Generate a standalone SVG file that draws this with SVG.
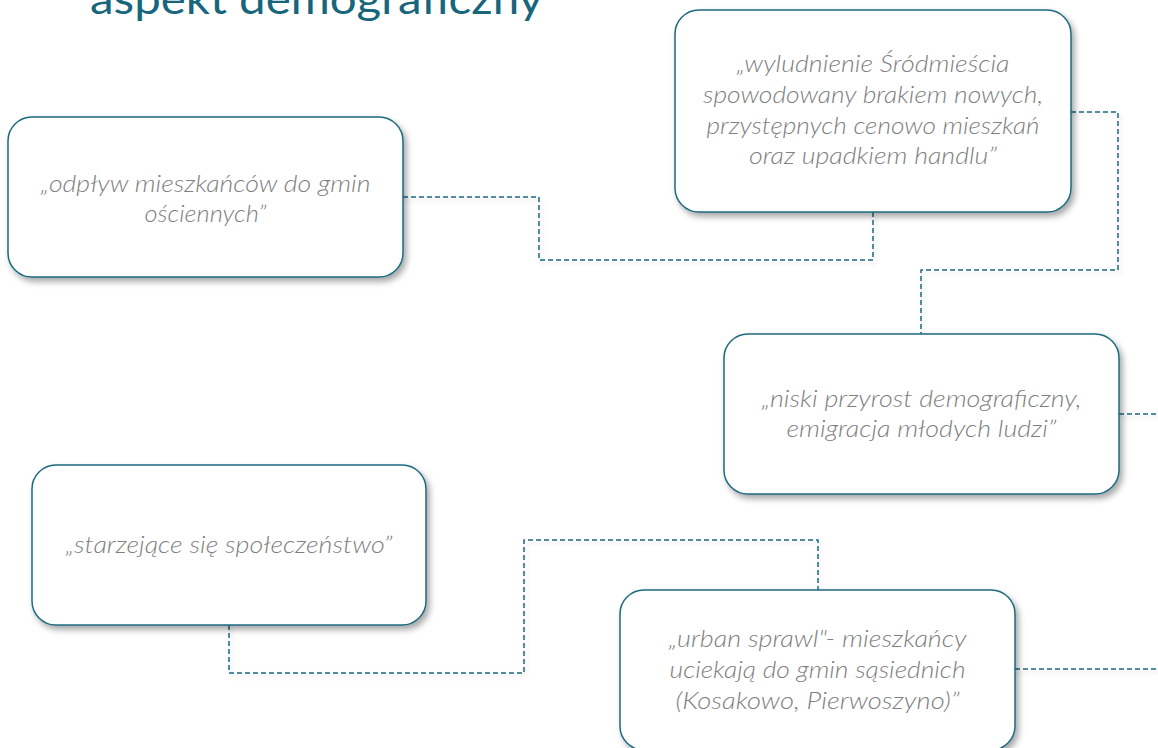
<svg xmlns="http://www.w3.org/2000/svg" width="1158" height="748" viewBox="0 0 1158 748">
<defs>
<filter id="sh" x="-10%" y="-10%" width="125%" height="130%">
<feDropShadow dx="3" dy="4" stdDeviation="3" flood-color="#000" flood-opacity="0.35"/>
</filter>
<filter id="lsh" x="-5%" y="-5%" width="115%" height="120%">
<feDropShadow dx="2" dy="3" stdDeviation="2" flood-color="#000" flood-opacity="0.15"/>
</filter>
</defs>
<style>
.box{fill:#ffffff;stroke:#1e6a80;stroke-width:1.5;filter:url(#sh)}
.t{font-family:Lato,"Open Sans","Liberation Sans",sans-serif;font-style:italic;font-weight:300;font-size:24px;fill:#808080;text-anchor:middle}
.c{fill:none;stroke:#1e6a80;stroke-width:1.5;stroke-dasharray:5 3}
.title{font-family:Lato,"Open Sans","Liberation Sans",sans-serif;font-size:42px;fill:#17667c}
</style>
<rect width="1158" height="748" fill="#ffffff"/>
<text class="title" x="90" y="14" textLength="453" lengthAdjust="spacingAndGlyphs">aspekt demograficzny</text>
<g id="connectors" filter="url(#lsh)">
<path class="c" d="M403 197 H539 V260 H873 V212"/>
<path class="c" d="M1071 112 H1118 V270 H921 V334"/>
<path class="c" d="M1119 414 H1158"/>
<path class="c" d="M229 625 V673 H524 V540 H818 V590"/>
<path class="c" d="M1015 669 H1158"/>
</g>
<g id="node-odplyw">
<rect class="box" x="8" y="117" width="395" height="160" rx="24"/>
<text class="t" x="205.5" y="192" textLength="330" lengthAdjust="spacingAndGlyphs">„odpływ mieszkańców do gmin</text>
<text class="t" x="205.5" y="222" textLength="122" lengthAdjust="spacingAndGlyphs">ościennych”</text>
</g>
<g id="node-wyludnienie">
<rect class="box" x="675" y="10" width="396" height="202" rx="24"/>
<text class="t" x="873" y="72" textLength="273" lengthAdjust="spacingAndGlyphs">„wyludnienie Śródmieścia</text>
<text class="t" x="873" y="103" textLength="340" lengthAdjust="spacingAndGlyphs">spowodowany brakiem nowych,</text>
<text class="t" x="873" y="134" textLength="333" lengthAdjust="spacingAndGlyphs">przystępnych cenowo mieszkań</text>
<text class="t" x="873" y="164" textLength="248" lengthAdjust="spacingAndGlyphs">oraz upadkiem handlu”</text>
</g>
<g id="node-niski">
<rect class="box" x="724" y="334" width="395" height="160" rx="24"/>
<text class="t" x="921.5" y="407" textLength="320" lengthAdjust="spacingAndGlyphs">„niski przyrost demograficzny,</text>
<text class="t" x="921.5" y="437" textLength="270" lengthAdjust="spacingAndGlyphs">emigracja młodych ludzi”</text>
</g>
<g id="node-starzejace">
<rect class="box" x="32" y="465" width="394" height="160" rx="24"/>
<text class="t" x="229" y="553" textLength="327" lengthAdjust="spacingAndGlyphs">„starzejące się społeczeństwo”</text>
</g>
<g id="node-urban">
<rect class="box" x="620" y="590" width="395" height="160" rx="24"/>
<text class="t" x="817.5" y="647" textLength="298" lengthAdjust="spacingAndGlyphs">„urban sprawl"- mieszkańcy</text>
<text class="t" x="817.5" y="678" textLength="296" lengthAdjust="spacingAndGlyphs">uciekają do gmin sąsiednich</text>
<text class="t" x="817.5" y="709" textLength="284" lengthAdjust="spacingAndGlyphs">(Kosakowo, Pierwoszyno)”</text>
</g>
</svg>
